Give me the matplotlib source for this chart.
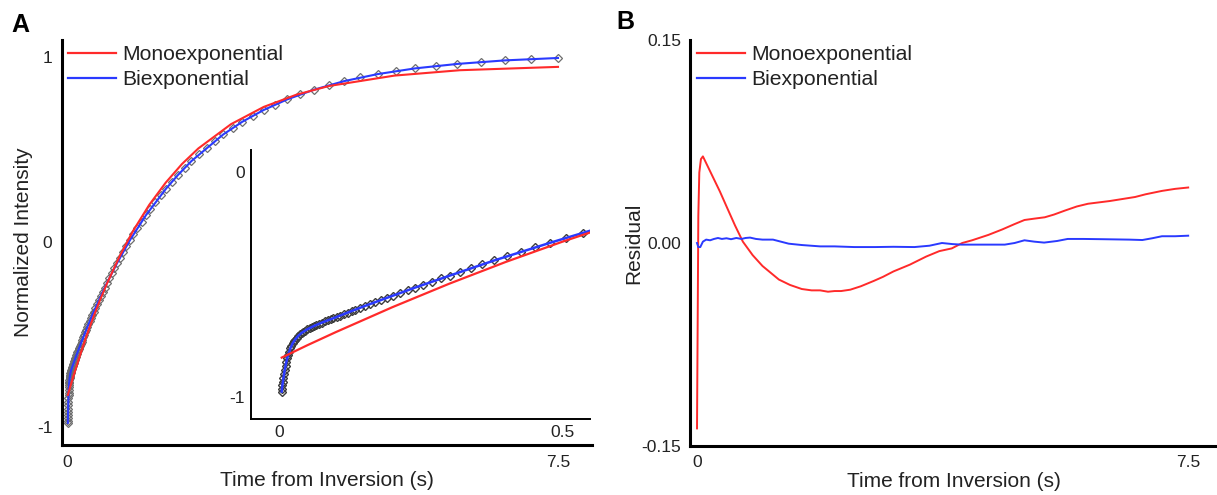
import matplotlib
matplotlib.use("Agg")
import matplotlib.pyplot as plt
from matplotlib.lines import Line2D

plt.rcParams['font.family'] = ['Liberation Sans', 'DejaVu Sans']

# inversion recovery samples (s) and normalized intensity
t_data = [0.0047, 0.0053, 0.006, 0.0068, 0.0077, 0.0088, 0.010, 0.0115, 0.013, 0.0145,
          0.016, 0.018, 0.020, 0.022, 0.024, 0.026, 0.028, 0.031, 0.034, 0.037,
          0.040, 0.043, 0.046, 0.050, 0.054, 0.058, 0.062, 0.066, 0.071, 0.076,
          0.081, 0.086, 0.091, 0.096, 0.102, 0.108, 0.114, 0.121, 0.128,
          0.135, 0.143, 0.152, 0.161, 0.170, 0.180, 0.191, 0.202, 0.214, 0.227,
          0.240, 0.255, 0.270, 0.286, 0.302, 0.320, 0.339, 0.359, 0.380, 0.403,
          0.427, 0.452, 0.478, 0.507, 0.537, 0.568, 0.602, 0.637, 0.675, 0.715,
          0.757, 0.802, 0.849, 0.899, 0.952, 1.008, 1.068, 1.131, 1.197, 1.268,
          1.343, 1.422, 1.506, 1.595, 1.689, 1.789, 1.895, 2.007, 2.125, 2.250,
          2.383, 2.524, 2.673, 2.830, 2.997, 3.174, 3.362, 3.560, 3.770, 3.992,
          4.228, 4.477, 4.741, 5.021, 5.317, 5.631, 5.963, 6.315, 6.688, 7.082, 7.5]
intensity = [-0.976, -0.963, -0.948, -0.933, -0.917, -0.899, -0.881, -0.861, -0.843, -0.827,
             -0.814, -0.798, -0.784, -0.772, -0.762, -0.753, -0.746, -0.736, -0.728, -0.721,
             -0.715, -0.709, -0.705, -0.699, -0.694, -0.689, -0.684, -0.680, -0.675, -0.669,
             -0.664, -0.659, -0.654, -0.650, -0.644, -0.638, -0.632, -0.625, -0.618,
             -0.612, -0.604, -0.595, -0.587, -0.579, -0.569, -0.559, -0.549, -0.538, -0.526,
             -0.514, -0.501, -0.488, -0.473, -0.460, -0.444, -0.428, -0.411, -0.393, -0.375,
             -0.355, -0.335, -0.315, -0.292, -0.269, -0.246, -0.221, -0.196, -0.169, -0.142,
             -0.114, -0.084, -0.054, -0.023, 0.009, 0.041, 0.075, 0.109, 0.144, 0.179,
             0.215, 0.252, 0.288, 0.325, 0.362, 0.400, 0.437, 0.474, 0.510, 0.545,
             0.581, 0.615, 0.649, 0.681, 0.712, 0.742, 0.770, 0.797, 0.822, 0.846,
             0.868, 0.888, 0.906, 0.922, 0.937, 0.950, 0.961, 0.971, 0.980, 0.987, 0.993]

# fitted curves
t_bi = [0.0047, 0.006, 0.0077, 0.010, 0.013, 0.016, 0.020, 0.024, 0.028, 0.034,
        0.040, 0.050, 0.062, 0.076, 0.096, 0.121, 0.152, 0.191, 0.240, 0.302,
        0.380, 0.478, 0.602, 0.757, 0.952, 1.197, 1.506, 1.689, 1.895, 2.383,
        2.673, 2.997, 3.362, 3.770, 4.228, 4.741, 5.317, 5.963, 6.688, 7.5]
biexp_fit = [-0.976, -0.948, -0.917, -0.881, -0.843, -0.814, -0.784, -0.762, -0.746, -0.728,
             -0.715, -0.699, -0.684, -0.669, -0.650, -0.625, -0.595, -0.559, -0.514, -0.460,
             -0.393, -0.315, -0.221, -0.114, 0.009, 0.144, 0.288, 0.362, 0.437, 0.581,
             0.649, 0.712, 0.770, 0.822, 0.868, 0.906, 0.937, 0.961, 0.980, 0.993]
t_mono = [0.0047, 0.05, 0.1, 0.2, 0.3, 0.4, 0.5, 0.6, 0.8, 1.0, 1.25,
          1.5, 1.75, 2.0, 2.5, 3.0, 3.5, 4.0, 5.0, 6.0, 7.5]
monoexp_fit = [-0.825, -0.770, -0.712, -0.601, -0.497, -0.400, -0.310, -0.226, -0.074, 0.059, 0.201,
               0.320, 0.421, 0.505, 0.636, 0.729, 0.795, 0.842, 0.898, 0.927, 0.945]

# residuals, panel B
t_res_mono = [0.0, 0.01, 0.02, 0.035, 0.06, 0.09, 0.15, 0.25, 0.35, 0.46,
              0.58, 0.70, 0.85, 1.0, 1.1, 1.25, 1.42, 1.6, 1.75, 1.88,
              2.0, 2.1, 2.2, 2.34, 2.5, 2.7, 2.84, 3.0, 3.25, 3.5,
              3.7, 3.89, 4.05, 4.2, 4.45, 4.66, 4.85, 5.0, 5.15, 5.31,
              5.45, 5.62, 5.8, 5.97, 6.3, 6.69, 6.85, 7.1, 7.3, 7.5]
res_mono = [-0.137, -0.06, 0.02, 0.052, 0.062, 0.064, 0.058, 0.048, 0.038, 0.026,
            0.013, 0.001, -0.009, -0.017, -0.021, -0.027, -0.031, -0.034, -0.035, -0.035,
            -0.036, -0.0355, -0.0355, -0.0345, -0.032, -0.028, -0.025, -0.021, -0.016, -0.010,
            -0.006, -0.004, 0.0, 0.002, 0.006, 0.010, 0.014, 0.017, 0.018, 0.019,
            0.021, 0.024, 0.027, 0.029, 0.031, 0.034, 0.036, 0.0385, 0.040, 0.041]
t_res_bi = [0.0, 0.02, 0.05, 0.09, 0.14, 0.2, 0.26, 0.32, 0.38, 0.45,
            0.52, 0.6, 0.68, 0.74, 0.81, 0.9, 1.0, 1.16, 1.28, 1.4,
            1.6, 1.88, 2.1, 2.4, 2.72, 3.0, 3.32, 3.55, 3.74, 3.9,
            4.04, 4.4, 4.7, 4.85, 5.0, 5.15, 5.3, 5.5, 5.66, 5.9,
            6.2, 6.6, 6.8, 6.95, 7.1, 7.3, 7.5]
res_bi = [0.0, -0.003, -0.003, 0.001, 0.0025, 0.002, 0.003, 0.0037, 0.003, 0.0035,
          0.0028, 0.0037, 0.003, 0.0037, 0.004, 0.003, 0.0025, 0.0025, 0.001, -0.0005,
          -0.0015, -0.0025, -0.0025, -0.003, -0.003, -0.0028, -0.003, -0.002, 0.0, -0.0008,
          -0.0012, -0.0012, -0.0012, 0.0, 0.002, 0.001, 0.0003, 0.0015, 0.003, 0.003,
          0.0028, 0.0025, 0.0022, 0.0035, 0.005, 0.005, 0.0054]

a_xticks, a_xticklabels = [0, 7.5], ['0', '7.5']
a_yticks, a_yticklabels = [-1, 0, 1], ['-1', '0', '1']
in_xticks, in_xticklabels = [0, 0.5], ['0', '0.5']
in_yticks, in_yticklabels = [-1, 0], ['-1', '0']
b_xticks, b_xticklabels = [0, 7.5], ['0', '7.5']
b_yticks, b_yticklabels = [-0.15, 0.0, 0.15], ['-0.15', '0.00', '0.15']

RED = '#ff2a2a'
BLUE = '#2a3aff'
TXT = '#222222'


def style_axes(ax, lw, size, pad):
    for side in ['top', 'right']:
        ax.spines[side].set_visible(False)
    for side in ['left', 'bottom']:
        ax.spines[side].set_linewidth(lw)
        ax.spines[side].set_color('black')
    ax.tick_params(length=0, labelsize=size, pad=pad, labelcolor=TXT)


def add_legend(ax, x0, y0):
    handles = [Line2D([], [], color=RED, lw=1.6, label='Monoexponential'),
               Line2D([], [], color=BLUE, lw=1.6, label='Biexponential')]
    leg = ax.legend(handles=handles, loc='upper left', bbox_to_anchor=(x0, y0),
                    frameon=False, fontsize=15.2, handlelength=2.26, handletextpad=0.34,
                    labelspacing=0.27, borderpad=0, borderaxespad=0)
    for t in leg.get_texts():
        t.set_color(TXT)


fig = plt.figure(figsize=(12.17, 4.95), dpi=100)

ax_a = fig.add_axes([0.05094, 0.10101, 0.43550, 0.81818])
ax_in = fig.add_axes([0.20624, 0.15354, 0.27855, 0.54343])
ax_b = fig.add_axes([0.56697, 0.09899, 0.43303, 0.82020])

# panel A
ax_a.plot(t_data, intensity, ls='none', marker='D', ms=4.5, mfc='none', mec='#6e6e6e',
          mew=0.9, zorder=2)
ax_a.plot(t_bi, biexp_fit, color=BLUE, lw=1.5, zorder=3)
ax_a.plot(t_mono, monoexp_fit, color=RED, lw=1.5, zorder=4)
ax_a.set_xlim(-0.085, 8.02)
ax_a.set_ylim(-1.095, 1.09)
ax_a.set_xticks(a_xticks, labels=a_xticklabels)
ax_a.set_yticks(a_yticks, labels=a_yticklabels)
style_axes(ax_a, 2.2, 12.5, 7)
ax_a.set_xlabel('Time from Inversion (s)', fontsize=15, color=TXT)
ax_a.xaxis.set_label_coords(0.5, -0.064)
ax_a.set_ylabel('Normalized Intensity', fontsize=15, color=TXT)
ax_a.yaxis.set_label_coords(-0.055, 0.5)
add_legend(ax_a, 0.011, 0.987)

# inset, first half second
ax_in.plot(t_data, intensity, ls='none', marker='D', ms=4.5, mfc='none', mec='#3c3c3c',
           mew=1.0, zorder=2)
ax_in.plot(t_bi, biexp_fit, color=BLUE, lw=1.8, zorder=3)
ax_in.plot(t_mono, monoexp_fit, color=RED, lw=1.6, zorder=4)
ax_in.set_xlim(-0.0495, 0.549)
ax_in.set_ylim(-1.098, 0.098)
ax_in.set_xticks(in_xticks, labels=in_xticklabels)
ax_in.set_yticks(in_yticks, labels=in_yticklabels)
style_axes(ax_in, 1.4, 12.5, 4.5)

# panel B
ax_b.plot(t_res_mono, res_mono, color=RED, lw=1.4, zorder=3)
ax_b.plot(t_res_bi, res_bi, color=BLUE, lw=1.4, zorder=4)
ax_b.set_xlim(-0.107, 7.94)
ax_b.set_ylim(-0.15, 0.15)
ax_b.set_xticks(b_xticks, labels=b_xticklabels)
ax_b.set_yticks(b_yticks, labels=b_yticklabels)
style_axes(ax_b, 2.2, 12.5, 6.5)
ax_b.set_xlabel('Time from Inversion (s)', fontsize=15, color=TXT)
ax_b.xaxis.set_label_coords(0.5, -0.064)
ax_b.set_ylabel('Residual', fontsize=15, color=TXT)
ax_b.yaxis.set_label_coords(-0.089, 0.5)
add_legend(ax_b, 0.013, 0.987)

fig.text(20 / 1217, 1 - 25 / 495, 'A', fontsize=18, fontweight='bold', ha='center', va='center')
fig.text(625 / 1217, 1 - 22 / 495, 'B', fontsize=18, fontweight='bold', ha='center', va='center')

fig.savefig('out.png', dpi=100)
